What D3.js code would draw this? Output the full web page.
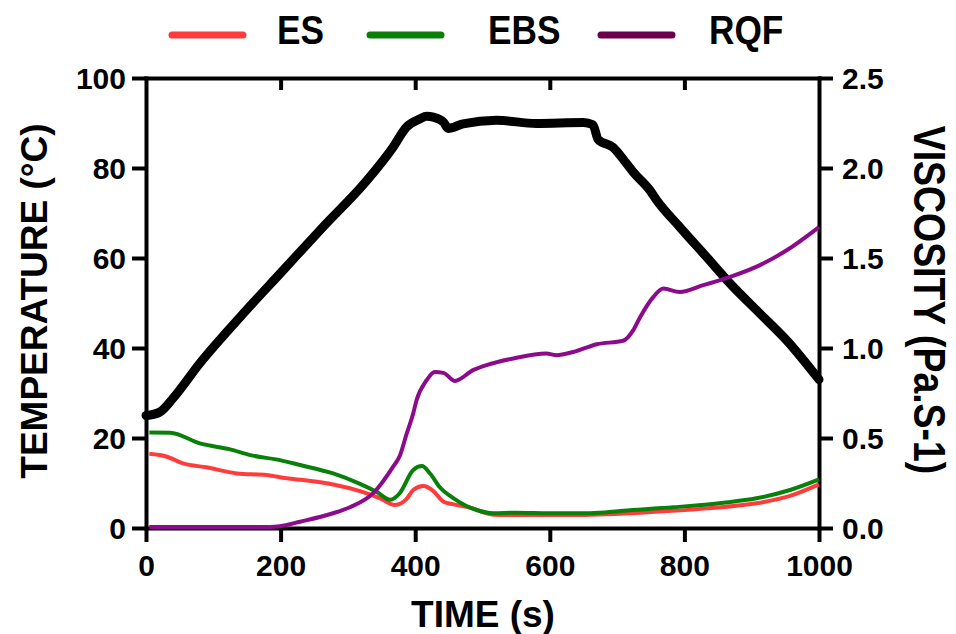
<!DOCTYPE html>
<html>
<head>
<meta charset="utf-8">
<script src="https://cdn.jsdelivr.net/npm/d3@7"></script>
<style>
  body { margin: 0; background: #fff; }
  svg text { font-family: "Liberation Sans", Arial, sans-serif; font-weight: bold; }
</style>
</head>
<body>
<div id="vis"></div>
<script>

// temperature profile (black, left axis)
var tempTime = [0, 6, 21, 40, 80, 140, 204, 263, 328, 367, 387, 407, 417, 427, 442, 449, 471, 521, 580, 650, 664, 672, 694, 714, 724, 749, 759, 793, 833, 868, 912, 952, 1000];
var tempValue = [25, 25.1, 25.8, 28.8, 36.6, 46.9, 57.3, 66.9, 77.2, 84.6, 89.1, 90.9, 91.5, 91.3, 90.2, 88.8, 89.8, 90.6, 89.9, 90.1, 89.6, 86.3, 84.6, 81, 79.1, 75, 72.8, 66.9, 60.2, 54.3, 47.7, 41.7, 33];

// viscosity series (right axis)
var esTime = [5, 31, 55, 90, 135, 179, 209, 239, 278, 318, 348, 370, 387, 397, 412, 427, 442, 457, 486, 506, 526, 576, 635, 734, 833, 907, 957, 1000];
var esValue = [0.412, 0.396, 0.359, 0.337, 0.303, 0.294, 0.276, 0.264, 0.242, 0.205, 0.165, 0.128, 0.16, 0.211, 0.233, 0.205, 0.146, 0.131, 0.109, 0.082, 0.072, 0.072, 0.072, 0.085, 0.109, 0.137, 0.178, 0.242];

var ebsTime = [5, 36, 80, 125, 155, 199, 229, 278, 318, 343, 363, 377, 397, 410, 422, 437, 457, 491, 516, 551, 600, 660, 709, 784, 858, 907, 957, 1000];
var ebsValue = [0.53, 0.529, 0.47, 0.437, 0.405, 0.377, 0.35, 0.303, 0.245, 0.2, 0.157, 0.193, 0.322, 0.344, 0.303, 0.225, 0.165, 0.1, 0.082, 0.085, 0.082, 0.082, 0.096, 0.115, 0.14, 0.165, 0.211, 0.27];

var rqfTime = [5, 100, 184, 199, 229, 278, 303, 338, 367, 377, 387, 397, 402, 417, 429, 442, 459, 486, 506, 546, 595, 610, 635, 670, 709, 724, 734, 754, 769, 793, 828, 868, 917, 952, 1000];
var rqfValue = [0.006, 0.006, 0.006, 0.01, 0.035, 0.082, 0.115, 0.195, 0.34, 0.4, 0.52, 0.636, 0.71, 0.821, 0.867, 0.862, 0.817, 0.877, 0.905, 0.942, 0.969, 0.96, 0.978, 1.021, 1.04, 1.099, 1.17, 1.284, 1.33, 1.311, 1.349, 1.395, 1.469, 1.543, 1.672];

var seriesNames = ["ES", "EBS", "RQF"];
var seriesColors = ["#ff3b3b", "#0a800a", "#8c0a8c"];
var legendColors = ["#ff3b3b", "#0a800a", "#6a004e"];

var xTicks = [0, 200, 400, 600, 800, 1000];
var tempTicks = [0, 20, 40, 60, 80, 100];
var viscTicks = [0, 0.5, 1.0, 1.5, 2.0, 2.5];

var width = 956, height = 634;

var x = d3.scaleLinear().domain([0, 1000]).range([146, 819]);
var yT = d3.scaleLinear().domain([0, 100]).range([528, 78]);
var yV = d3.scaleLinear().domain([0, 2.5]).range([528, 78]);

var svg = d3.select("#vis").append("svg")
    .attr("width", width)
    .attr("height", height);

function zip(ts, vs) {
  return ts.map(function(t, i) { return {t: t, v: vs[i]}; });
}

var viscLine = d3.line()
    .x(function(d) { return x(d.t); })
    .y(function(d) { return yV(d.v); })
    .curve(d3.curveMonotoneX);

var tempLine = d3.line()
    .x(function(d) { return x(d.t); })
    .y(function(d) { return yT(d.v); })
    .curve(d3.curveMonotoneX);

// axes
function styleAxis(g) {
  g.selectAll("path.domain").attr("stroke", "#000").attr("stroke-width", 4).attr("stroke-linecap", "square");
  g.selectAll(".tick line").attr("stroke", "#000").attr("stroke-width", 4);
  g.selectAll(".tick text").attr("fill", "#000").style("font-size", "30px");
}

svg.append("g")
    .attr("transform", "translate(0,78)")
    .call(d3.axisTop(x).tickValues([200, 400, 600, 800]).tickSize(-12).tickSizeOuter(0).tickFormat(""))
    .call(styleAxis);

svg.append("g")
    .attr("transform", "translate(0,528)")
    .call(d3.axisBottom(x).tickValues(xTicks).tickSize(14).tickSizeOuter(0).tickPadding(13).tickFormat(d3.format("d")))
    .call(styleAxis);

svg.append("g")
    .attr("transform", "translate(146,0)")
    .call(d3.axisLeft(yT).tickValues(tempTicks).tickSize(14).tickSizeOuter(0).tickPadding(6))
    .call(styleAxis)
    .selectAll(".tick text").attr("dy", "0.36em");

svg.append("g")
    .attr("transform", "translate(819,0)")
    .call(d3.axisRight(yV).tickValues(viscTicks).tickSize(14).tickSizeOuter(0).tickPadding(9).tickFormat(d3.format(".1f")))
    .call(styleAxis)
    .selectAll(".tick text").attr("dy", "0.36em");

// axis titles
svg.append("text")
    .attr("x", 483).attr("y", 627)
    .attr("text-anchor", "middle")
    .style("font-size", "37px")
    .text("TIME (s)");

svg.append("text")
    .attr("transform", "translate(47,301) rotate(-90)")
    .attr("text-anchor", "middle")
    .style("font-size", "37px")
    .text("TEMPERATURE (°C)");

svg.append("text")
    .attr("transform", "translate(914,300) rotate(90) scale(0.85,1)")
    .attr("text-anchor", "middle")
    .style("font-size", "44px")
    .text("VISCOSITY (Pa.S-1)");

// data lines
var viscSeries = [zip(esTime, esValue), zip(ebsTime, ebsValue), zip(rqfTime, rqfValue)];

svg.append("path")
    .datum(zip(tempTime, tempValue))
    .attr("fill", "none")
    .attr("stroke", "#000")
    .attr("stroke-width", 9)
    .attr("stroke-linejoin", "round")
    .attr("stroke-linecap", "round")
    .attr("d", tempLine);

svg.selectAll(".visc")
    .data(viscSeries)
  .enter().append("path")
    .attr("class", "visc")
    .attr("fill", "none")
    .attr("stroke", function(d, i) { return seriesColors[i]; })
    .attr("stroke-width", 4)
    .attr("stroke-linejoin", "round")
    .attr("d", viscLine);

// legend
var legendLineX = [172, 370, 601];
var legendTextX = [277, 488, 709];

var legend = svg.selectAll(".legend")
    .data(seriesNames)
  .enter().append("g")
    .attr("class", "legend");

legend.append("line")
    .attr("x1", function(d, i) { return legendLineX[i]; })
    .attr("x2", function(d, i) { return legendLineX[i] + 71; })
    .attr("y1", 35).attr("y2", 35)
    .attr("stroke", function(d, i) { return legendColors[i]; })
    .attr("stroke-width", 7)
    .attr("stroke-linecap", "round");

legend.append("text")
    .attr("transform", function(d, i) { return "translate(" + legendTextX[i] + ",44) scale(0.86,1)"; })
    .style("font-size", "41px")
    .text(function(d) { return d; });

</script>
</body>
</html>
